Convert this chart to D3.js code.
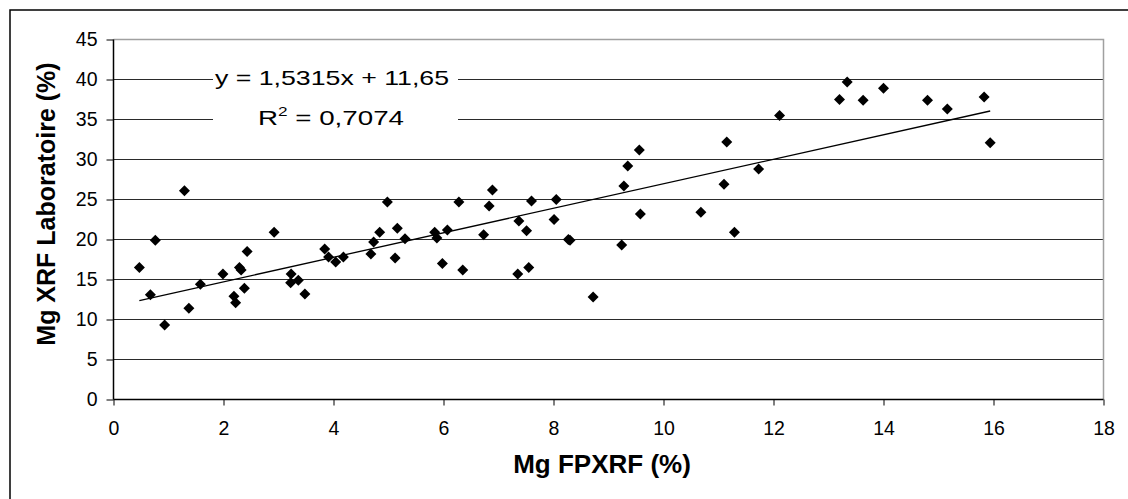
<!DOCTYPE html>
<html>
<head>
<meta charset="utf-8">
<script src="https://cdn.jsdelivr.net/npm/d3@7"></script>
<style>
  html, body { margin: 0; padding: 0; background: #fff; }
  svg { display: block; }
  text { font-family: "Liberation Sans", Arial, Helvetica, sans-serif; fill: #000; }
</style>
</head>
<body>
<svg id="chart" width="1128" height="499"></svg>
<script>
// ---- data ----
const xValues = [0.47,0.67,0.76,0.93,1.29,1.37,1.58,1.99,2.19,2.22,2.29,2.32,2.38,2.43,2.92,3.23,3.22,3.36,3.48,
  3.84,3.91,4.04,4.18,4.68,4.73,4.84,4.98,5.12,5.16,5.30,5.84,5.88,5.98,6.07,6.28,6.35,6.73,6.83,6.89,7.35,7.37,7.51,7.55,7.60,8.01,8.05,8.27,8.30,8.72,
  9.24,9.28,9.35,9.56,9.58,10.68,11.10,11.15,11.29,11.73,12.11,13.20,13.34,13.63,
  14.00,14.80,15.16,15.83,15.94];
const yValues = [16.5,13.1,19.9,9.3,26.1,11.4,14.4,15.7,12.9,12.1,16.5,16.2,13.9,18.5,20.9,15.7,14.6,14.9,13.2,
  18.8,17.8,17.2,17.8,18.2,19.7,20.9,24.7,17.7,21.4,20.1,20.9,20.2,17.0,21.2,24.7,16.2,20.6,24.2,26.2,15.7,22.3,21.1,16.5,24.8,22.5,25.0,20.0,19.9,12.8,
  19.3,26.7,29.2,31.2,23.2,23.4,26.9,32.2,20.9,28.8,35.5,37.5,39.7,37.4,
  38.9,37.4,36.3,37.8,32.1];
const xTicks = [0,2,4,6,8,10,12,14,16,18];
const yTicks = [0,5,10,15,20,25,30,35,40,45];
const slope = 1.5315, intercept = 11.65;
const equationText = "y = 1,5315x + 11,65";
const r2Value = "0,7074";
const xTitle = "Mg FPXRF (%)";
const yTitle = "Mg XRF Laboratoire (%)";

// ---- layout ----
const svg = d3.select("#chart");
const x = d3.scaleLinear().domain([0, 18]).range([113.5, 1103.5]);
const y = d3.scaleLinear().domain([0, 45]).range([399.5, 39.5]);

// outer frame
svg.append("rect").attr("x", 10).attr("y", 10).attr("width", 1140).attr("height", 520)
  .attr("fill", "none").attr("stroke", "#000").attr("stroke-width", 1.5);

// gridlines
svg.append("g").selectAll("line").data(yTicks.filter(d => d > 0 && d < 45)).join("line")
  .attr("x1", x(0)).attr("x2", x(18))
  .attr("y1", d => y(d)).attr("y2", d => y(d))
  .attr("stroke", "#2a2a2a").attr("stroke-width", 1.1);

// plot border (top & right)
svg.append("path")
  .attr("d", `M${x(0)},${y(45)} H${x(18)} V${y(0)}`)
  .attr("fill", "none").attr("stroke", "#a0a0a0").attr("stroke-width", 1.5);

// equation background box
svg.append("rect").attr("x", 213).attr("y", 62).attr("width", 245).attr("height", 76).attr("fill", "#fff");

// axes
const xAxis = d3.axisBottom(x).tickValues(xTicks).tickSize(6).tickPadding(16).tickFormat(d3.format("d"));
const yAxis = d3.axisLeft(y).tickValues(yTicks).tickSize(7).tickPadding(9).tickFormat(d3.format("d"));
const gx = svg.append("g").attr("transform", `translate(0,${y(0)})`).call(xAxis);
const gy = svg.append("g").attr("transform", `translate(${x(0)},0)`).call(yAxis);
[gx, gy].forEach(g => {
  g.select(".domain").attr("stroke", "#000").attr("stroke-width", 1.5);
  g.selectAll(".tick line").attr("stroke", "#000").attr("stroke-width", 1);
  g.selectAll(".tick text").attr("font-size", 19.5).attr("font-family", "'Liberation Sans', Arial, sans-serif").attr("fill", "#000");
});
gx.select(".domain").attr("d", `M${x(0)},0H${x(18)}`);
gy.select(".domain").attr("d", `M0,${y(0)}V${y(45)}`);

// trend line
const xMin = d3.min(xValues), xMax = d3.max(xValues);
svg.append("line")
  .attr("x1", x(xMin)).attr("y1", y(slope * xMin + intercept))
  .attr("x2", x(xMax)).attr("y2", y(slope * xMax + intercept))
  .attr("stroke", "#000").attr("stroke-width", 1.3);

// points
const pts = xValues.map((v, i) => [v, yValues[i]]);
svg.append("g").selectAll("path").data(pts).join("path")
  .attr("transform", d => `translate(${x(d[0])},${y(d[1])})`)
  .attr("d", "M0,-5.5L5.5,0L0,5.5L-5.5,0Z")
  .attr("fill", "#000");

// equation text
svg.append("text").attr("x", 332).attr("y", 85).attr("text-anchor", "middle")
  .attr("font-size", 21).attr("textLength", 234).attr("lengthAdjust", "spacingAndGlyphs")
  .text(equationText);
const r2 = svg.append("text").attr("x", 331).attr("y", 125).attr("text-anchor", "middle")
  .attr("font-size", 21).attr("textLength", 146).attr("lengthAdjust", "spacingAndGlyphs");
r2.append("tspan").text("R");
r2.append("tspan").attr("font-size", 13).attr("dy", -9).text("2");
r2.append("tspan").attr("dy", 9).text(" = " + r2Value);

// axis titles
svg.append("text").attr("x", 602).attr("y", 473).attr("text-anchor", "middle")
  .attr("font-size", 26).attr("font-weight", "bold").text(xTitle);
svg.append("text").attr("transform", "translate(55,204) rotate(-90)").attr("text-anchor", "middle")
  .attr("font-size", 25).attr("font-weight", "bold").text(yTitle);
</script>
</body>
</html>
